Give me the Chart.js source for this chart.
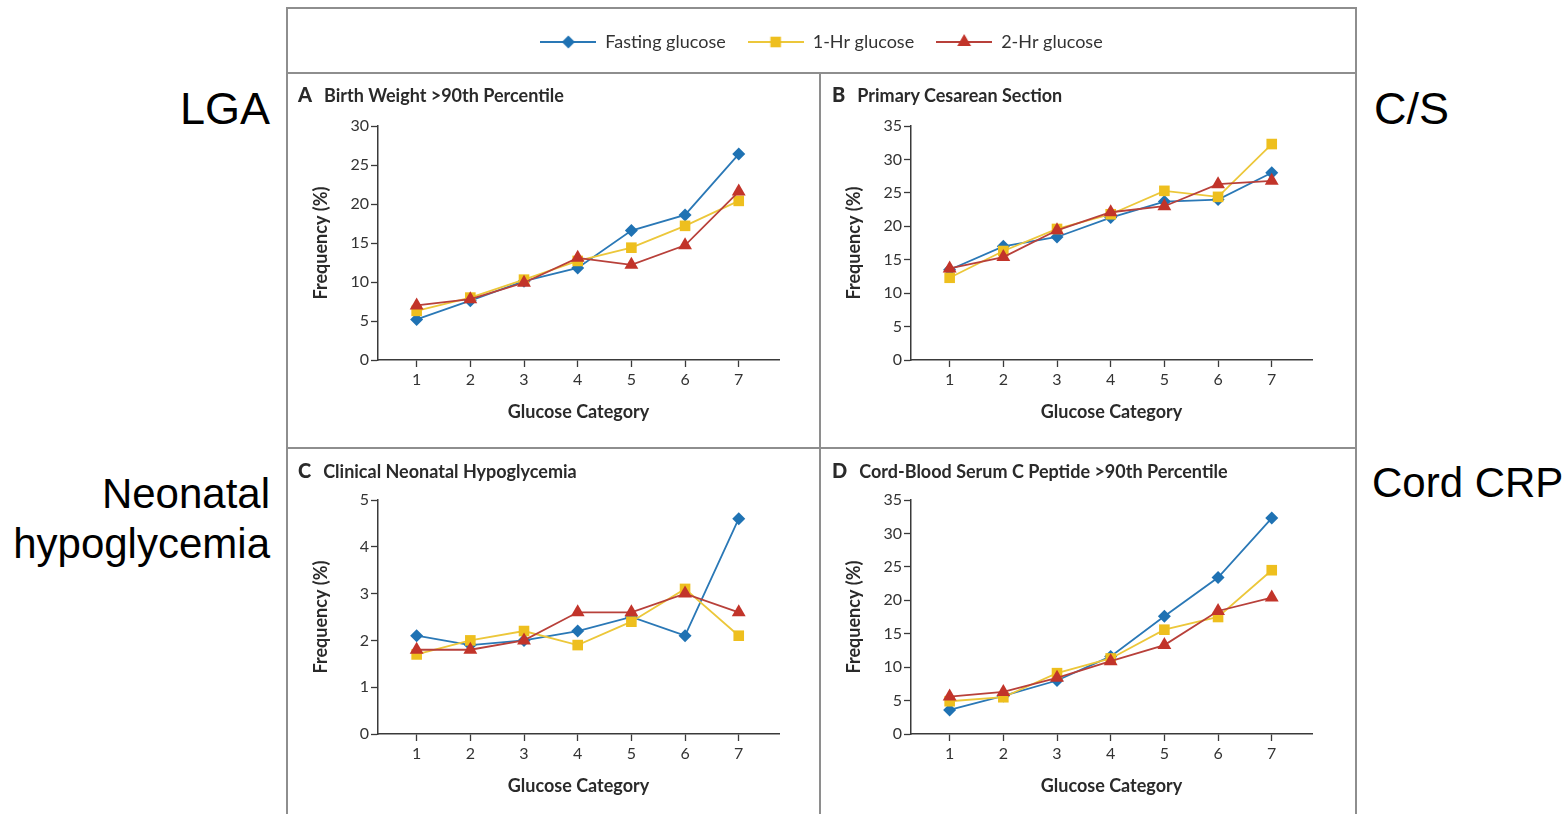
<!DOCTYPE html>
<html lang="en">
<head>
<meta charset="UTF-8">
<title>Outcomes by Glucose Category</title>
<script src="https://cdn.jsdelivr.net/npm/chart.js"></script>
<style>
  body {
    margin: 0;
    width: 1566px;
    height: 814px;
    position: relative;
    overflow: hidden;
    background: #fff;
    font-family: Lato, "Open Sans", sans-serif;
  }
  .rule { position: absolute; background: #8e8e8e; }
  .panel { position: absolute; }
  .panel canvas { display: block; }
  .head {
    position: absolute;
    font-weight: bold;
    font-size: 18px;
    line-height: 22px;
    color: #2a2a2a;
    white-space: nowrap;
  }
  .head b { font-size: 20px; margin-right: 12px; }
  .side {
    position: absolute;
    font-family: "Liberation Sans", Arial, sans-serif;
    color: #000;
    line-height: 1.18;
  }
</style>
</head>
<body>
  <!-- frame -->
  <div class="rule" style="left:286px; top:7px; width:1071px; height:2px;"></div>
  <div class="rule" style="left:286px; top:7px; width:2px; height:810px;"></div>
  <div class="rule" style="left:1355px; top:7px; width:2px; height:810px;"></div>
  <div class="rule" style="left:286px; top:72px; width:1071px; height:2px;"></div>
  <div class="rule" style="left:819px; top:72px; width:2px; height:750px;"></div>
  <div class="rule" style="left:286px; top:447px; width:1071px; height:2px;"></div>

  <div class="panel" style="left:287px; top:73px;"><canvas id="chartA" width="533" height="375"></canvas></div>
  <div class="panel" style="left:820px; top:73px;"><canvas id="chartB" width="536" height="375"></canvas></div>
  <div class="panel" style="left:287px; top:447px;"><canvas id="chartC" width="533" height="375"></canvas></div>
  <div class="panel" style="left:820px; top:447px;"><canvas id="chartD" width="536" height="375"></canvas></div>

  <div class="panel" style="left:288px; top:9px;"><canvas id="legendChart" width="1067" height="150"></canvas></div>

  <div class="head" style="left:298px; top:83px;"><b>A</b>Birth Weight &gt;90th Percentile</div>
  <div class="head" style="left:832px; top:83px;"><b>B</b>Primary Cesarean Section</div>
  <div class="head" style="left:298px; top:459px;"><b>C</b>Clinical Neonatal Hypoglycemia</div>
  <div class="head" style="left:832px; top:459px;"><b>D</b>Cord-Blood Serum C Peptide &gt;90th Percentile</div>

  <div class="side" style="right:1296px; top:82px; font-size:45px;">LGA</div>
  <div class="side" style="left:1374px; top:82px; font-size:45px;">C/S</div>
  <div class="side" style="right:1296px; top:469px; font-size:42px; text-align:right;">Neonatal<br>hypoglycemia</div>
  <div class="side" style="left:1372px; top:458px; font-size:42px;">Cord CRP</div>

<script>
  const glucoseCategories = [1, 2, 3, 4, 5, 6, 7];
  const seriesNames = ["Fasting glucose", "1-Hr glucose", "2-Hr glucose"];

  // A: birth weight >90th percentile
  const lgaFasting = [5.2, 7.6, 10.1, 11.8, 16.6, 18.6, 26.4];
  const lgaOneHr = [6.3, 8.0, 10.3, 12.7, 14.4, 17.2, 20.4];
  const lgaTwoHr = [7.0, 7.8, 9.9, 13.1, 12.2, 14.7, 21.6];

  // B: primary cesarean section
  const csFasting = [13.5, 17.0, 18.4, 21.3, 23.7, 24.0, 28.0];
  const csOneHr = [12.3, 16.3, 19.6, 21.8, 25.3, 24.4, 32.3];
  const csTwoHr = [13.7, 15.4, 19.4, 22.1, 23.0, 26.3, 26.8];

  // C: clinical neonatal hypoglycemia
  const hypoFasting = [2.1, 1.9, 2.0, 2.2, 2.5, 2.1, 4.6];
  const hypoOneHr = [1.7, 2.0, 2.2, 1.9, 2.4, 3.1, 2.1];
  const hypoTwoHr = [1.8, 1.8, 2.0, 2.6, 2.6, 3.0, 2.6];

  // D: cord-blood serum C peptide >90th percentile
  const cpepFasting = [3.6, 5.7, 8.0, 11.6, 17.6, 23.4, 32.3];
  const cpepOneHr = [4.9, 5.5, 9.1, 11.3, 15.6, 17.5, 24.5];
  const cpepTwoHr = [5.6, 6.3, 8.4, 10.9, 13.3, 18.4, 20.4];

  const lineColors = ["#2a78b6", "#ecc73a", "#b8403a"];
  const markerColors = ["#1f72b3", "#eebf1e", "#c2342a"];
  const markerShapes = ["rectRot", "rect", "triangle"];
  const markerRadius = [6.5, 7.5, 8];

  const textColor = "#333";
  const axisColor = "#3a3a3a";
  const baseFont = "Lato, 'Open Sans', sans-serif";

  function buildDatasets(values) {
    return values.map((vals, i) => ({
      label: seriesNames[i],
      data: glucoseCategories.map((c, j) => ({ x: c, y: vals[j] })),
      borderColor: lineColors[i],
      borderWidth: 1.8,
      backgroundColor: markerColors[i],
      pointBackgroundColor: markerColors[i],
      pointBorderWidth: 0,
      pointStyle: markerShapes[i],
      pointRadius: markerRadius[i],
      tension: 0,
      clip: false,
      order: 3 - i,
    }));
  }

  function makePanel(id, values, yMax, areaTop) {
    const canvas = document.getElementById(id);
    const plotRight = 492;
    return new Chart(canvas, {
      type: "line",
      data: { datasets: buildDatasets(values) },
      options: {
        responsive: false,
        animation: false,
        events: [],
        layout: { padding: { top: areaTop, right: canvas.width - plotRight, left: 0, bottom: 0 } },
        plugins: { legend: { display: false }, tooltip: { enabled: false } },
        scales: {
          x: {
            type: "linear",
            min: 0.28,
            max: 7.75,
            border: { color: axisColor, width: 1.5 },
            grid: { drawOnChartArea: false, tickLength: 7, color: axisColor, tickWidth: 1.3 },
            ticks: { color: textColor, padding: 3, font: { family: baseFont, size: 16 } },
            afterBuildTicks: (s) => { s.ticks = glucoseCategories.map((v) => ({ value: v })); },
            title: {
              display: true,
              text: "Glucose Category",
              color: "#2a2a2a",
              font: { family: baseFont, size: 18, weight: "bold" },
              padding: { top: 0, bottom: 25 },
            },
            afterFit: (s) => { s.height = canvas.height - areaTop - 234; },
          },
          y: {
            min: 0,
            max: yMax,
            border: { color: axisColor, width: 1.5 },
            grid: { drawOnChartArea: false, tickLength: 7, color: axisColor, tickWidth: 1.3 },
            ticks: { stepSize: yMax > 10 ? 5 : 1, color: textColor, padding: 2, font: { family: baseFont, size: 16 } },
            title: {
              display: true,
              text: "Frequency (%)",
              color: "#2a2a2a",
              font: { family: baseFont, size: 18, weight: "bold" },
              padding: { top: 23, bottom: 0 },
            },
            afterFit: (s) => { s.width = 91; },
          },
        },
      },
    });
  }

  makePanel("chartA", [lgaFasting, lgaOneHr, lgaTwoHr], 30, 53);
  makePanel("chartB", [csFasting, csOneHr, csTwoHr], 35, 53);
  makePanel("chartC", [hypoFasting, hypoOneHr, hypoTwoHr], 5, 53);
  makePanel("chartD", [cpepFasting, cpepOneHr, cpepTwoHr], 35, 53);

  // legend swatches: short line with the series marker on it
  function legendIcon(i) {
    const c = document.createElement("canvas");
    c.width = 56;
    c.height = 18;
    const g = c.getContext("2d");
    g.strokeStyle = lineColors[i];
    g.lineWidth = 1.8;
    g.beginPath();
    g.moveTo(0, 9);
    g.lineTo(56, 9);
    g.stroke();
    g.fillStyle = markerColors[i];
    g.beginPath();
    const r = markerRadius[i];
    if (markerShapes[i] === "rectRot") {
      g.moveTo(28, 9 - r); g.lineTo(28 + r, 9); g.lineTo(28, 9 + r); g.lineTo(28 - r, 9);
    } else if (markerShapes[i] === "rect") {
      const h = r * Math.SQRT1_2;
      g.rect(28 - h, 9 - h, 2 * h, 2 * h);
    } else {
      g.moveTo(28, 9 - r);
      g.lineTo(28 + r * Math.sin(2 * Math.PI / 3), 9 + r / 2);
      g.lineTo(28 - r * Math.sin(2 * Math.PI / 3), 9 + r / 2);
    }
    g.closePath();
    g.fill();
    return c;
  }

  new Chart(document.getElementById("legendChart"), {
    type: "line",
    data: {
      datasets: seriesNames.map((name, i) => ({ label: name, data: [], pointStyle: legendIcon(i) })),
    },
    options: {
      responsive: false,
      animation: false,
      events: [],
      layout: { padding: { top: 2 } },
      scales: { x: { display: false }, y: { display: false } },
      plugins: {
        tooltip: { enabled: false },
        legend: {
          display: true,
          position: "top",
          labels: {
            usePointStyle: true,
            pointStyleWidth: 56,
            padding: 22,
            color: textColor,
            font: { family: baseFont, size: 18 },
            generateLabels: (chart) => chart.data.datasets.map((ds, i) => ({
              text: ds.label,
              pointStyle: ds.pointStyle,
              fillStyle: "transparent",
              strokeStyle: "transparent",
              lineWidth: 0,
              fontColor: textColor,
              hidden: false,
              datasetIndex: i,
            })),
          },
        },
      },
    },
  });
</script>
</body>
</html>
